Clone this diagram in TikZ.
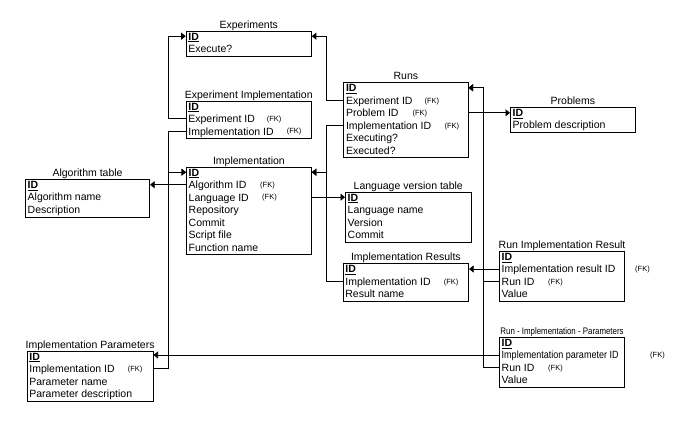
\documentclass[tikz,border=0pt]{standalone}
\usepackage{fontspec}
\setmainfont{Liberation Sans}
\usepackage{graphicx}
\usetikzlibrary{arrows.meta}
\tikzset{
  tbox/.style={draw, line width=0.8pt, inner sep=0pt, anchor=north west},
  ttitle/.style={font=\fontsize{10.5}{12}\selectfont, inner sep=0pt, anchor=base},
  rowtxt/.style={font=\fontsize{10.5}{12}\selectfont, inner sep=0pt, anchor=base west},
  fktxt/.style={font=\fontsize{7.5}{9}\selectfont, inner sep=0pt, anchor=base west},
  rel/.style={line width=0.7pt, -{Triangle[length=4.5pt,width=7pt]}},
}
\newcommand\mktable[6]{%
  \node[tbox, minimum width=#4pt, minimum height={12.5pt*#5}] (#1) at (#2,#3) {};
  \node[ttitle] (#1-title) at ([yshift=2.7pt]#1.north) {#6};
  \foreach \i in {1,...,#5} {\coordinate (#1-r\i) at (#2,{#3+5.5+12.5*(\i-1)});}
}
\newcommand\mkrows[2]{%
  \foreach \t [count=\i] in {#2} {\node[rowtxt] (#1-t\i) at ([xshift=2.5pt,yshift=-3.8pt]#1-r\i) {\t};}
}
\newcommand\fk[3]{\node[fktxt] (#1-fk#2) at ([xshift=#3pt,yshift=-2.7pt]#1-r#2) {(FK)};}
\newcommand\pk{\textbf{\underline{ID}}}
\begin{document}
\begin{tikzpicture}[x=1pt,y=-1pt]
\useasboundingbox (0,0) rectangle (690,442);

\mktable{exp}{185.7}{30.7}{125.3}{2}{Experiments}
\mkrows{exp}{\pk,Execute?}

\mktable{ei}{185.7}{100.7}{125.3}{3}{Experiment Implementation}
\mkrows{ei}{\pk,Experiment ID,Implementation ID}
\fk{ei}{2}{81}\fk{ei}{3}{101}

\mktable{runs}{343.3}{82.3}{124.4}{6}{Runs}
\mkrows{runs}{\pk,Experiment ID,Problem ID,Implementation ID,Executing?,Executed?}
\fk{runs}{2}{81}\fk{runs}{3}{69}\fk{runs}{4}{101}

\mktable{prob}{510}{107}{125}{2}{Problems}
\mkrows{prob}{\pk,Problem description}

\mktable{alg}{25}{179}{124.3}{3}{Algorithm table}
\mkrows{alg}{\pk,Algorithm name,Description}

\mktable{impl}{186}{166.7}{125}{7}{Implementation}
\mkrows{impl}{\pk,Algorithm ID,Language ID,Repository,Commit,Script file,Function name}
\fk{impl}{2}{74}\fk{impl}{3}{76}

\mktable{lang}{345}{191.7}{125.7}{4}{Language version table}
\mkrows{lang}{\pk,Language name,Version,Commit}

\mktable{ires}{342.7}{263.3}{125.6}{3}{Implementation Results}
\mkrows{ires}{\pk,Implementation ID,Result name}
\fk{ires}{2}{101}

\mktable{rir}{499}{251}{125.3}{4}{Run Implementation Result}
\mkrows{rir}{\pk,Implementation result ID,Run ID,Value}
\fk{rir}{2}{136}\fk{rir}{3}{49}

\mktable{rip}{499}{337}{125.3}{4}{\scalebox{0.83}[1]{\fontsize{9.5}{11}\selectfont Run - Implementation - Parameters}}
\mkrows{rip}{\pk,\scalebox{0.86}[1]{Implementation parameter ID},Run ID,Value}
\fk{rip}{2}{151}\fk{rip}{3}{49}

\mktable{ipar}{26.7}{350.7}{126}{4}{Implementation Parameters}
\mkrows{ipar}{\pk,Implementation ID,Parameter name,Parameter description}
\fk{ipar}{2}{101}

\coordinate (busL) at (168.5,0);
\coordinate (busM) at (326.5,0);
\coordinate (busR) at (483.3,0);

\draw[rel] (ei.west |- ei-r2) -- (busL |- ei-r2) |- (exp.west |- exp-r1);
\draw[rel] (runs.west |- runs-r2) -- (busM |- runs-r2) |- (exp.east |- exp-r1);
\draw[rel] (ei.west |- ei-r3) -- (busL |- ei-r3) |- (impl.west |- impl-r1);
\draw[rel] (ipar.east |- ipar-r2) -- (busL |- ipar-r2) |- (impl.west |- impl-r1);
\draw[rel] (impl.west |- impl-r2) -- (alg.east |- impl-r2);
\draw[rel] (runs.west |- runs-r4) -- (busM |- runs-r4) |- (impl.east |- impl-r1);
\draw[rel] (ires.west |- ires-r2) -- (busM |- ires-r2) |- (impl.east |- impl-r1);
\draw[rel] (impl.east |- impl-r3) -- (lang.west |- impl-r3);
\draw[rel] (runs.east |- runs-r3) -- (prob.west |- runs-r3);
\draw[rel] (rir.west |- rir-r3) -- (busR |- rir-r3) |- (runs.east |- runs-r1);
\draw[rel] (rip.west |- rip-r3) -- (busR |- rip-r3) |- (runs.east |- runs-r1);
\draw[rel] (rir.west |- rir-r2) -- (ires.east |- rir-r2);
\draw[rel] (rip.west |- rip-r2) -- (ipar.east |- rip-r2);
\end{tikzpicture}
\end{document}
